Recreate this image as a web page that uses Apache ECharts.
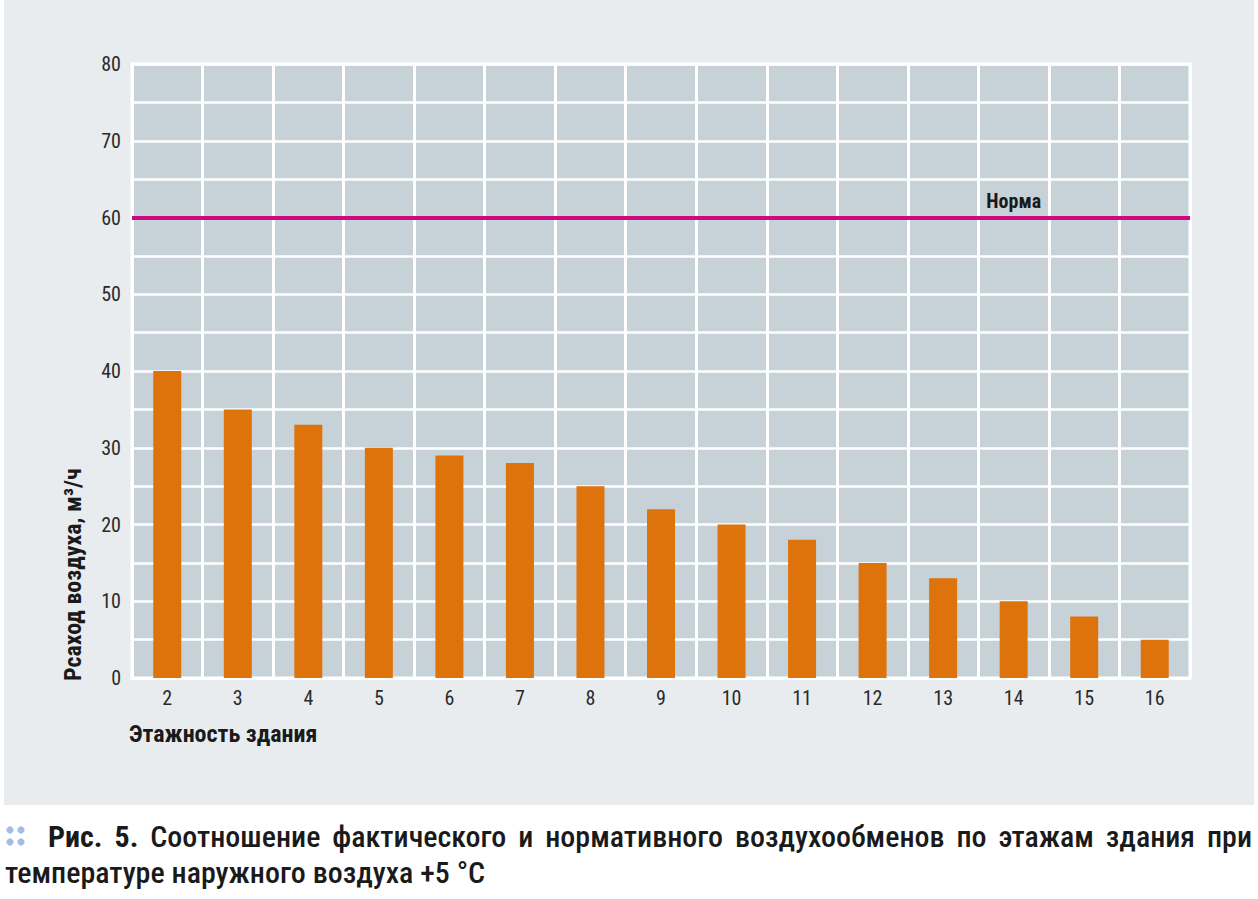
<!DOCTYPE html>
<html><head><meta charset="utf-8">
<script src="https://cdn.jsdelivr.net/npm/echarts@6/dist/echarts.min.js"></script>
<style>html,body{margin:0;padding:0;background:#fff}#c{width:1258px;height:899px}</style>
</head><body><div id="c"></div>
<script>
const categories = ['2','3','4','5','6','7','8','9','10','11','12','13','14','15','16'];
const airflow = [40, 35, 33, 30, 29, 28, 25, 22, 20, 18, 15, 13, 10, 8, 5];
const normValue = 60;
const normLabel = 'Норма';
const normLabelCategory = '14';
const yAxisTitle = 'Рсаход воздуха, м³/ч';
const xAxisTitle = 'Этажность здания';
const captionBold = ['Рис.', '5.'];
const captionLine1 = ['Соотношение', 'фактического', 'и', 'нормативного', 'воздухообменов', 'по', 'этажам', 'здания', 'при'];
const captionLine2 = 'температуре наружного воздуха +5 °C';

const FONT = '"Roboto Condensed", "Open Sans", sans-serif';

const mctx = document.createElement('canvas').getContext('2d');
function tw(text, weight, size) {
  mctx.font = weight + ' ' + size + 'px ' + FONT;
  return mctx.measureText(text).width;
}
// caption font size chosen so that line 2 spans the same width as in the reference
let CAP_SIZE = 25;
const w2 = tw(captionLine2, '500', 25);
if (w2 > 0) CAP_SIZE = Math.max(20, Math.min(30, 25 * 488 / w2));

// justified caption line 1
const words = captionBold.map(w => ({t: w, b: true})).concat(captionLine1.map(w => ({t: w, b: false})));
const x0 = 48, x1 = 1252;
let totalW = 0;
words.forEach(w => { w.w = tw(w.t, w.b ? 'bold' : '500', CAP_SIZE); totalW += w.w; });
const gap = (x1 - x0 - totalW) / (words.length - 1);
const captionEls = [];
let cx = x0;
words.forEach(w => {
  captionEls.push({type: 'text', x: cx, y: 836, style: {text: w.t, font: (w.b ? 'bold ' : '500 ') + CAP_SIZE + 'px ' + FONT, fill: '#1a1a1a', textVerticalAlign: 'middle'}});
  cx += w.w + gap;
});
captionEls.push({type: 'text', x: 5, y: 872, style: {text: captionLine2, font: '500 ' + CAP_SIZE + 'px ' + FONT, fill: '#1a1a1a', textVerticalAlign: 'middle'}});

const chart = echarts.init(document.getElementById('c'), null, {renderer: 'svg'});
chart.setOption({
  backgroundColor: '#ffffff',
  animation: false,
  graphic: [
    {type: 'rect', z: -10, shape: {x: 4, y: 0, width: 1250, height: 805}, style: {fill: '#e8ecef'}},
    {type: 'text', x: 73, y: 681, rotation: Math.PI / 2, style: {text: yAxisTitle, font: 'bold 24px ' + FONT, fill: '#1a1a1a', textAlign: 'left', textVerticalAlign: 'middle'}},
    {type: 'text', x: 129, y: 734, style: {text: xAxisTitle, font: 'bold 24px ' + FONT, fill: '#1a1a1a', textAlign: 'left', textVerticalAlign: 'middle'}},
    {type: 'circle', shape: {cx: 10, cy: 830, r: 3.6}, style: {fill: '#a3bde0'}},
    {type: 'circle', shape: {cx: 21, cy: 830, r: 3.6}, style: {fill: '#a3bde0'}},
    {type: 'circle', shape: {cx: 10, cy: 842, r: 3.6}, style: {fill: '#a3bde0'}},
    {type: 'circle', shape: {cx: 21, cy: 842, r: 3.6}, style: {fill: '#a3bde0'}}
  ].concat(captionEls),
  grid: {left: 132, right: 68, top: 64, bottom: 221, show: true, backgroundColor: '#c7d2d8', borderColor: '#ffffff', borderWidth: 3, containLabel: false},
  xAxis: {
    type: 'category', data: categories,
    axisLine: {show: true, lineStyle: {color: '#ffffff', width: 3}},
    axisTick: {show: false},
    axisLabel: {color: '#2a2a2a', fontSize: 20, fontFamily: FONT, margin: 10},
    splitLine: {show: true, interval: 0, lineStyle: {color: '#ffffff', width: 3}}
  },
  yAxis: {
    type: 'value', min: 0, max: 80, interval: 10,
    axisLine: {show: false}, axisTick: {show: false},
    axisLabel: {color: '#2a2a2a', fontSize: 20, fontFamily: FONT, margin: 11},
    splitLine: {show: true, lineStyle: {color: '#ffffff', width: 2.5}},
    minorTick: {show: false, splitNumber: 2},
    minorSplitLine: {show: true, lineStyle: {color: '#ffffff', width: 2.5}}
  },
  series: [{
    type: 'bar', data: airflow, barWidth: 28,
    itemStyle: {color: '#df730b'},
    markLine: {
      silent: true, symbol: 'none', label: {show: false},
      lineStyle: {color: '#cc0a7e', width: 4, type: 'solid'},
      data: [{yAxis: normValue}]
    },
    markPoint: {
      symbol: 'circle', symbolSize: 0,
      label: {show: true, formatter: normLabel, color: '#1a1a1a', fontWeight: 'bold', fontSize: 20, fontFamily: FONT, offset: [0, -17]},
      data: [{coord: [normLabelCategory, normValue]}]
    }
  }]
});
</script></body></html>
